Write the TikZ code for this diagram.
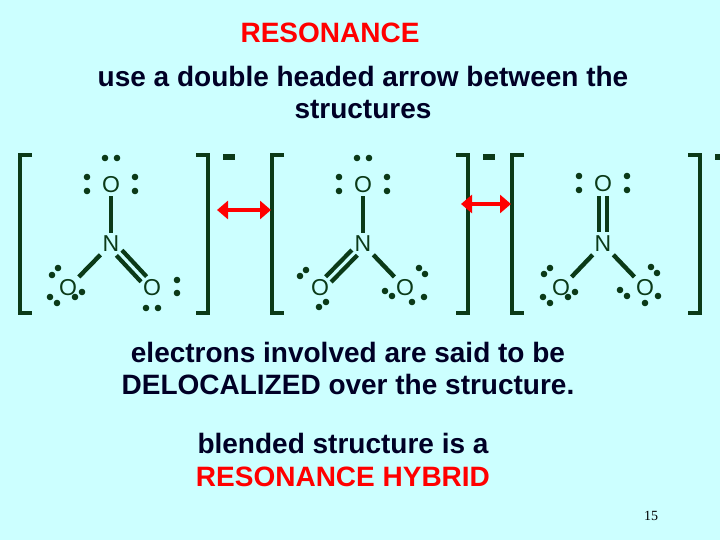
\documentclass[tikz,border=0pt]{standalone}
\usepackage{fontspec}
\setmainfont{Liberation Sans}
\usetikzlibrary{calc,arrows.meta}
\definecolor{bg}{HTML}{CCFFFF}
\definecolor{dk}{HTML}{0B3A18}
\tikzset{
 atom/.style={text=dk,font=\fontsize{23}{23}\selectfont,inner sep=2pt},
 bond/.style={draw=dk,line width=4.4pt,shorten <=1pt,shorten >=1pt},
 dbond/.style={draw=dk,line width=4.2pt,shorten <=12pt,shorten >=12pt},
 brk/.style={draw=dk,line width=3.6pt},
 txt/.style={font=\fontsize{28}{32}\selectfont\bfseries,align=center,text=black!85!blue},
 res/.style={draw=red,line width=4.5pt,{Triangle[length=11pt,width=18pt]}-{Triangle[length=11pt,width=18pt]}},
}
\newcommand{\dd}[3]{\fill[dk] ($(#1)+(#2)$) circle (3.3pt); \fill[dk] ($(#1)+(#3)$) circle (3.3pt);}
\newcommand{\brackets}[2]{%
 \draw[brk] (#1+12,155) -- (#1,155) -- (#1,313) -- (#1+12,313);
 \draw[brk] (#2-12,155) -- (#2,155) -- (#2,313) -- (#2-12,313);
 \fill[dk] (#2+15,154) rectangle (#2+27,160);}
\begin{document}
\begin{tikzpicture}[x=1pt,y=-1pt]
\fill[bg] (0,0) rectangle (720,540);
\useasboundingbox (0,0) rectangle (720,540);
\node[txt,text=red] (t1) at (330,33) {RESONANCE};
\node[txt] (t2) at (363,92) {use a double headed arrow between the\\structures};
\node[txt] (t3) at (348,368) {electrons involved are said to be\\DELOCALIZED over the structure.};
\node[txt] (t4) at (343,443) {blended structure is a};
\node[txt,text=red] (t5) at (343,477) {RESONANCE HYBRID};
\node[font=\fontspec{Liberation Serif}\fontsize{14}{14}\selectfont] (pg) at (651,516) {15};
% structure 1
\node[atom] (a1) at (111,185) {O};
\node[atom] (n1) at (111,244) {N};
\node[atom] (b1) at (68,288) {O};
\node[atom] (c1) at (152,288) {O};
\draw[bond] (a1) -- (n1);
\draw[bond] (n1) -- (b1);
\draw[dbond] ($(n1)!3.8pt!90:(c1)$) -- ($(c1)!3.8pt!-90:(n1)$);
\draw[dbond] ($(n1)!3.8pt!-90:(c1)$) -- ($(c1)!3.8pt!90:(n1)$);
\dd{a1}{-6,-27}{6,-27}\dd{a1}{-24,-8}{-24,6}\dd{a1}{24,-8}{24,6}
\dd{b1}{-16,-13}{-10,-20}\dd{b1}{-18,9}{-11,15}\dd{b1}{7,9}{14,4}
\dd{c1}{25,-8}{25,5}\dd{c1}{-6,20}{6,20}
\brackets{20}{208}
% structure 2
\node[atom] (a2) at (363,185) {O};
\node[atom] (n2) at (363,244) {N};
\node[atom] (b2) at (320,288) {O};
\node[atom] (c2) at (405,288) {O};
\draw[bond] (a2) -- (n2);
\draw[bond] (n2) -- (c2);
\draw[dbond] ($(n2)!3.8pt!90:(b2)$) -- ($(b2)!3.8pt!-90:(n2)$);
\draw[dbond] ($(n2)!3.8pt!-90:(b2)$) -- ($(b2)!3.8pt!90:(n2)$);
\dd{a2}{-6,-27}{6,-27}\dd{a2}{-24,-8}{-24,6}\dd{a2}{24,-8}{24,6}
\dd{b2}{-20,-12}{-14,-18}\dd{b2}{-1,19}{6,14}
\dd{c2}{14,-20}{20,-14}\dd{c2}{-20,3}{-13,8}\dd{c2}{7,14}{19,9}
\brackets{272}{468}
% structure 3
\node[atom] (a3) at (603,184) {O};
\node[atom] (n3) at (603,244) {N};
\node[atom] (b3) at (561,288) {O};
\node[atom] (c3) at (645,288) {O};
\draw[dbond] ($(a3)!3.8pt!90:(n3)$) -- ($(n3)!3.8pt!-90:(a3)$);
\draw[dbond] ($(a3)!3.8pt!-90:(n3)$) -- ($(n3)!3.8pt!90:(a3)$);
\draw[bond] (n3) -- (b3);
\draw[bond] (n3) -- (c3);
\dd{a3}{-24,-8}{-24,6}\dd{a3}{24,-8}{24,6}
\dd{b3}{-17,-14}{-11,-20}\dd{b3}{-18,9}{-11,15}\dd{b3}{7,9}{14,4}
\dd{c3}{6,-21}{12,-15}\dd{c3}{-25,2}{-18,8}\dd{c3}{0,15}{13,8}
\brackets{512}{700}
% resonance arrows
\coordinate (r1a) at (217,210); \coordinate (r1b) at (271,210);
\coordinate (r2a) at (461,204); \coordinate (r2b) at (511,204);
\draw[res] (r1a) -- (r1b);
\draw[res] (r2a) -- (r2b);
\end{tikzpicture}
\end{document}
